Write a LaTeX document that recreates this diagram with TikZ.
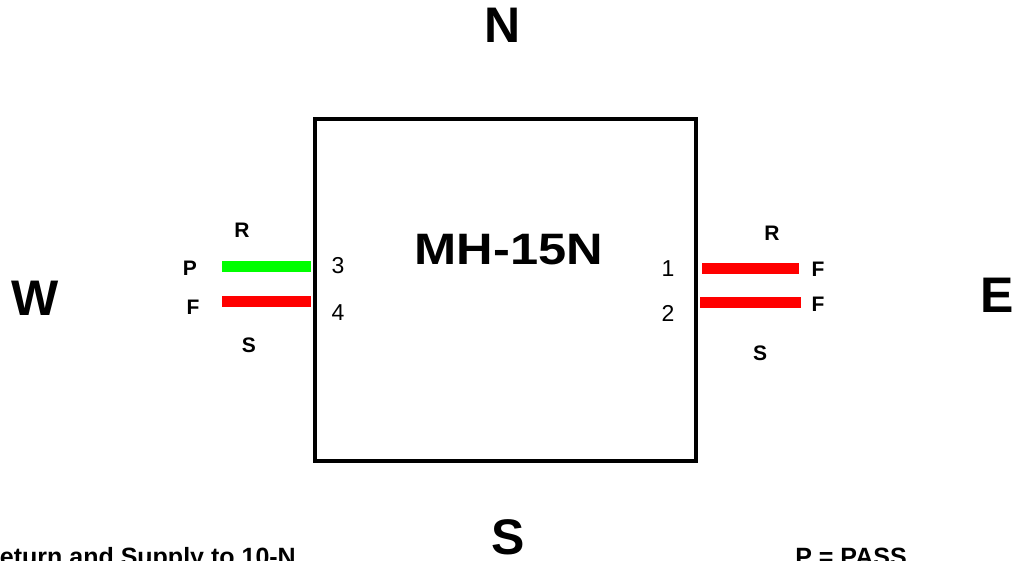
\documentclass[tikz,border=0pt]{standalone}
\usepackage{fontspec}
\setmainfont{Liberation Sans}
\begin{document}
\begin{tikzpicture}[x=1pt,y=-1pt,
  big/.style={font=\fontsize{50}{50}\selectfont\bfseries, anchor=base, inner sep=0pt},
  ttl/.style={font=\fontsize{44}{44}\selectfont\bfseries, anchor=base, inner sep=0pt},
  lbl/.style={font=\fontsize{21}{21}\selectfont\bfseries, anchor=base, inner sep=0pt},
  num/.style={font=\fontsize{23}{23}\selectfont, anchor=base, inner sep=0pt},
  note/.style={font=\fontsize{25}{25}\selectfont\bfseries, inner sep=0pt},
  pipe/.style={line width=11pt},
  box/.style={draw, line width=4pt, minimum width=381pt, minimum height=342pt, inner sep=0pt}]
\useasboundingbox (0,0) rectangle (1013,561);
\clip (0,0) rectangle (1013,561);
% main box
\node[box] (mh) at (505.5,290) {};
\node[ttl] (title) at (509,265) {\scalebox{1.15}[1]{MH-15N}};
% compass
\node[big] (n) at (503,43) {N};
\node[big] (w) at (35,316) {W};
\node[big] (e) at (997,313) {E};
\node[big] (s) at (508,554) {S};
% west side
\coordinate (p3) at (mh.west |- 0,267);
\coordinate (p4) at (mh.west |- 0,302);
\coordinate (w3) at (222,267);
\coordinate (w4) at (222,302);
\draw[pipe, green] (w3) -- ([xshift=-2pt]p3);
\draw[pipe, red] (w4) -- ([xshift=-2pt]p4);
\node[lbl] (wr) at (242,237.5) {R};
\node[lbl] (wp) at (190,275.5) {P};
\node[lbl] (wf) at (193,314.5) {F};
\node[lbl] (ws) at (249,352.5) {S};
\node[num] (n3) at (338,273.5) {3};
\node[num] (n4) at (338,320.5) {4};
% east side
\coordinate (p1) at (mh.east |- 0,269);
\coordinate (p2) at (mh.east |- 0,303);
\coordinate (e1) at (799,269);
\coordinate (e2) at (801,303);
\draw[pipe, red] ([xshift=4pt]p1) -- (e1);
\draw[pipe, red] ([xshift=2pt]p2) -- (e2);
\node[num] (n1) at (668,276.5) {1};
\node[num] (n2) at (668,321.5) {2};
\node[lbl] (er) at (772,240.5) {R};
\node[lbl] (ef) at (818,276.5) {F};
\node[lbl] (ef2) at (818,311.5) {F};
\node[lbl] (es) at (760,360.5) {S};
% notes
\node[note, anchor=base east] (ret) at (296,565) {Return and Supply to 10-N};
\node[note, anchor=base] (pass) at (851,565) {P = PASS};
\end{tikzpicture}
\end{document}
